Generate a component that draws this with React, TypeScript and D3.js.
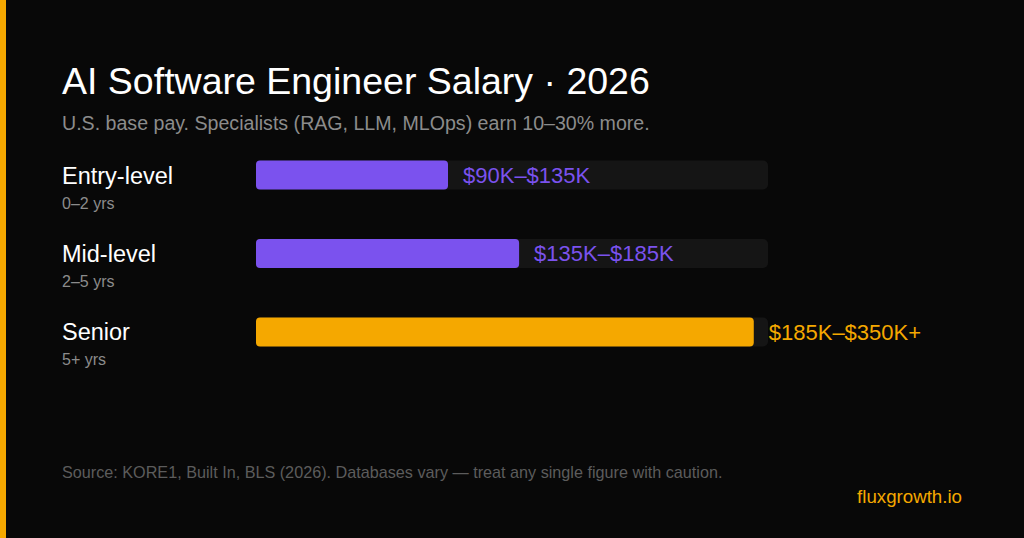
import React, { FC, useEffect } from "react"
import { scaleLinear, scaleBand } from "d3"

// data
const levels = ["Entry-level", "Mid-level", "Senior"]
const years = ["0–2 yrs", "2–5 yrs", "5+ yrs"]
const salaryLow = [90, 135, 185]
const salaryHigh = [135, 185, 350]
const rangeLabels = ["$90K–$135K", "$135K–$185K", "$185K–$350K+"]
const highlight = [false, false, true]

const title = "AI Software Engineer Salary · 2026"
const subtitle = "U.S. base pay. Specialists (RAG, LLM, MLOps) earn 10–30% more."
const source =
  "Source: KORE1, Built In, BLS (2026). Databases vary — treat any single figure with caution."
const brand = "fluxgrowth.io"

const App: FC = () => {
  useEffect(() => {
    document.body.style.margin = "0"
  }, [])

  const width = 1024
  const height = 538
  const font = "'Liberation Sans', Arial, sans-serif"

  const purple = "#7b52ee"
  const orange = "#f5a800"

  // scales
  const xScale = scaleLinear().domain([0, 360]).range([256, 768])
  const yScale = scaleBand<string>()
    .domain(levels)
    .range([160.5, 346.5])
    .paddingInner(0.63)
    .paddingOuter(0)
    .align(0)
  const barH = yScale.bandwidth()

  return (
    <svg width={width} height={height} style={{ display: "block", fontFamily: font }}>
      <rect width={width} height={height} fill="#080808" />
      <rect width={6} height={height} fill={orange} />

      <text x={62} y={94} fill="#ffffff" fontSize={37.5}>
        {title}
      </text>
      <text x={62} y={130} fill="#8c8c8c" fontSize={19.6}>
        {subtitle}
      </text>

      {levels.map((lvl, i) => {
        const y = yScale(lvl) ?? 0
        const color = highlight[i] ? orange : purple
        const end = xScale(salaryHigh[i])
        return (
          <g key={lvl}>
            <text x={62} y={y + 23} fill="#ffffff" fontSize={23.5}>
              {lvl}
            </text>
            <text x={62} y={y + 48} fill="#8c8c8c" fontSize={16}>
              {years[i]}
            </text>
            <rect
              x={xScale(0)}
              y={y}
              width={xScale(360) - xScale(0)}
              height={barH}
              rx={5}
              fill="#151515"
            />
            <rect
              x={xScale(0)}
              y={y}
              width={end - xScale(0)}
              height={barH}
              rx={4}
              fill={color}
              data-low={salaryLow[i]}
            />
            <text x={end + 15} y={y + 22.5} fill={color} fontSize={22}>
              {rangeLabels[i]}
            </text>
          </g>
        )
      })}

      <text x={62} y={478} fill="#5c5c5c" fontSize={16.2}>
        {source}
      </text>
      <text x={962} y={503} fill={orange} fontSize={18.7} textAnchor="end">
        {brand}
      </text>
    </svg>
  )
}

export default App
